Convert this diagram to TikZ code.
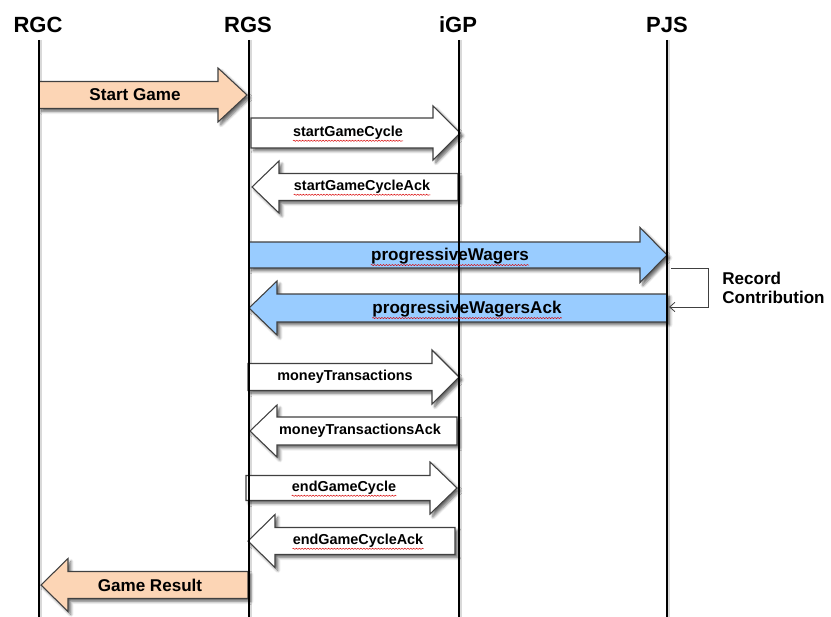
\documentclass[tikz,border=0pt]{standalone}
\usepackage{fontspec}
\setmainfont{Liberation Sans}
\usetikzlibrary{shadows.blur,decorations.pathmorphing,arrows.meta}
\definecolor{peach}{HTML}{FCD5B5}
\definecolor{lblue}{HTML}{99CCFF}
\definecolor{edge}{HTML}{404040}
\newcommand\rblock[7]{%
  \path[#7] (#1,{#3-#4}) -- (#6,{#3-#4}) -- (#6,{#3-#5}) -- (#2,#3) -- (#6,{#3+#5}) -- (#6,{#3+#4}) -- (#1,{#3+#4}) -- cycle;}
\newcommand\wavyline[1]{%
  \draw[red!85!black, line width=0.35pt, decorate, decoration={snake, amplitude=0.45pt, segment length=2.2pt}]
    ([yshift=-0.6pt]#1.south west) -- ([yshift=-0.6pt]#1.south east);}
\tikzset{
  blockarrow/.style={draw=edge, line width=0.8pt, line join=miter,
    blur shadow={shadow xshift=2.2pt, shadow yshift=-2.2pt, shadow blur steps=6, shadow opacity=60}},
  peachbox/.style={blockarrow, fill=peach},
  bluebox/.style={blockarrow, fill=lblue},
  whitebox/.style={blockarrow, fill=white},
  header/.style={font=\fontsize{16.5}{19}\selectfont\bfseries, inner sep=0pt},
  biglabel/.style={font=\fontsize{12.8}{15}\selectfont\bfseries, inner sep=0pt},
  smalllabel/.style={font=\fontsize{10.8}{13}\selectfont\bfseries, inner sep=0pt},
  lifeline/.style={line width=1.1pt, black},
  lifeshadow/.style={line width=2pt, gray!30},
}
\begin{document}
\begin{tikzpicture}[x=0.75pt, y=-0.75pt]
\useasboundingbox (0,0) rectangle (831,617);

% headers
\node[header] (rgc) at (38,25) {RGC};
\node[header] (rgs) at (248,25) {RGS};
\node[header] (igp) at (458,25) {iGP};
\node[header] (pjs) at (667,25) {PJS};

\coordinate (rgcT) at (39,40);  \coordinate (rgcB) at (39,617);
\coordinate (rgsT) at (249,40); \coordinate (rgsB) at (249,617);
\coordinate (igpT) at (459,40); \coordinate (igpB) at (459,617);
\coordinate (pjsT) at (667,40); \coordinate (pjsB) at (667,617);

% lifeline shadows
\foreach \a in {rgc,rgs,igp,pjs}{
  \draw[lifeshadow] ([xshift=1.6pt]\a T) -- ([xshift=1.6pt]\a B);
}

% block arrows
\rblock{39}{247}{95}{13.5}{27}{218}{peachbox}
\rblock{251}{460}{133}{15}{27}{433}{whitebox}
\rblock{458}{252}{187}{13.5}{26}{279}{whitebox}
\rblock{249}{667}{255}{13}{27.5}{640}{bluebox}
\rblock{667}{249}{308}{14}{27}{277}{bluebox}
\rblock{248}{459}{377}{13.5}{27}{432}{whitebox}
\rblock{457}{250}{431}{14}{26}{277}{whitebox}
\rblock{246}{457}{488}{12.5}{26}{430}{whitebox}
\rblock{455}{248}{541}{13.5}{26.5}{275}{whitebox}
\rblock{248}{41}{585}{13.5}{26.5}{68}{peachbox}

% lifelines
\draw[lifeline] (rgcT) -- (rgcB);
\draw[lifeline] (rgsT) -- (rgsB);
\draw[lifeline] (igpT) -- (igpB);
\draw[lifeline] (pjsT) -- (pjsB);

% labels
\node[biglabel] (l1) at (135,95) {Start Game};
\node[smalllabel] (l2) at (348,133) {startGameCycle};
\node[smalllabel] (l3) at (362,187) {startGameCycleAck};
\node[biglabel] (l4) at (450,256) {progressiveWagers};
\node[biglabel] (l5) at (467,309) {progressiveWagersAck};
\node[smalllabel] (l6) at (345,377) {moneyTransactions};
\node[smalllabel] (l7) at (360,431) {moneyTransactionsAck};
\node[smalllabel] (l8) at (344,488) {endGameCycle};
\node[smalllabel] (l9) at (358,541) {endGameCycleAck};
\node[biglabel] (l10) at (150,585) {Game Result};

\wavyline{l2}
\wavyline{l3}
\wavyline{l4}
\wavyline{l5}
\wavyline{l8}
\wavyline{l9}

% record contribution self-call
\coordinate (rcA) at (671,268);
\coordinate (rcB) at (708,268);
\coordinate (rcC) at (708,307);
\coordinate (rcD) at (669,307);
\draw[edge, line width=0.6pt, -{Straight Barb[length=4pt,width=7pt]}] (rcA) -- (rcB) -- (rcC) -- (rcD);
\node[biglabel, anchor=west, align=left, font=\fontsize{12.8}{14.5}\selectfont\bfseries] (rc) at (722,288) {Record\\Contribution};
\end{tikzpicture}
\end{document}
